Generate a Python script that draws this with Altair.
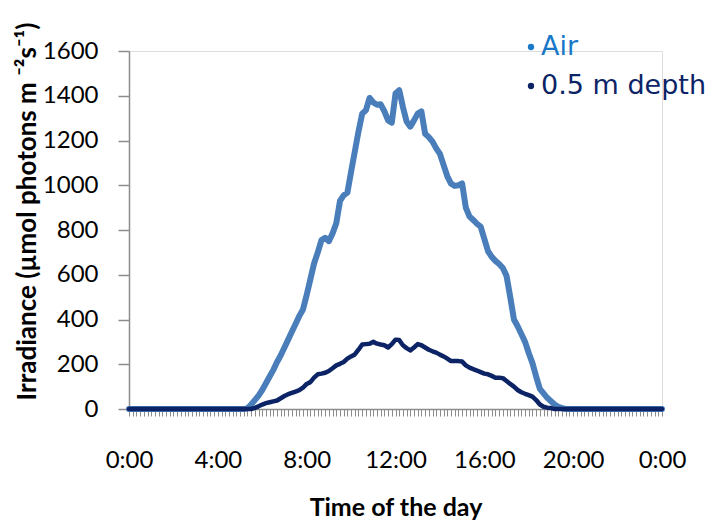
import altair as alt
import pandas as pd

# time in minutes since midnight, one reading every 10 minutes (0:00 .. 24:00)
minutes = [10 * i for i in range(145)]

air = ([0] * 32 +
       [3, 20, 40, 60, 85, 115, 145, 175, 210, 240, 275, 310, 345, 380, 415, 445,
        510, 580, 650, 700, 755, 765, 750, 785, 830, 930, 955, 967, 1060, 1150,
        1240, 1320, 1335, 1390, 1370, 1360, 1362, 1330, 1290, 1280, 1410, 1425,
        1350, 1285, 1262, 1290, 1320, 1330, 1230, 1215, 1195, 1165, 1140, 1090,
        1040, 1007, 997, 1000, 1008, 900, 860, 845, 828, 815, 760, 705, 680, 662,
        648, 630, 595, 500, 400, 370, 335, 300, 250, 205, 145, 90, 70, 50, 35,
        20, 10, 4] +
       [0] * 27)

depth = ([0] * 34 +
         [5, 12, 20, 26, 30, 34, 38, 48, 58, 66, 72, 78, 84, 95, 112, 120, 140,
          155, 158, 162, 170, 182, 195, 202, 210, 225, 235, 244, 265, 288, 290,
          292, 300, 292, 288, 285, 275, 290, 310, 308, 285, 272, 262, 275, 290,
          285, 275, 265, 258, 252, 243, 235, 225, 214, 214, 214, 212, 195, 185,
          178, 172, 165, 158, 155, 148, 140, 140, 138, 125, 112, 100, 85, 75, 68,
          62, 55, 40, 20, 10, 6, 4] +
         [0] * 30)

series_names = ["Air", "0.5 m depth"]
line_colors = ["#4a7ebb", "#0c2466"]
legend_text_colors = ["#1a78c8", "#0c2466"]
y_ticks = [0, 200, 400, 600, 800, 1000, 1200, 1400, 1600]

df = pd.DataFrame({
    "minute": minutes * 2,
    "value": air + depth,
    "series": [series_names[0]] * len(minutes) + [series_names[1]] * len(minutes),
})

W, H = 533, 358

x_axis = alt.Axis(
    values=minutes, ticks=True,
    labelExpr="datum.value % 240 == 0 ? (floor(datum.value / 60) % 24) + ':00' : ''",
    labelFont="Lato", labelFontSize=24, labelColor="#000000", labelPadding=32,
    labelAngle=0, labelOverlap=False, labelFlush=False,
    tickColor="#8c8c8c", tickSize=7, tickWidth=1, tickOpacity=1,
    domainColor="#8c8c8c", domainWidth=1.5, grid=False,
    title="Time of the day", titleFont="Lato", titleFontSize=25, titleFontWeight="bold",
    titleColor="#000000", titlePadding=23,
)

y_axis = alt.Axis(
    values=y_ticks, format="d",
    labelFont="Lato", labelFontSize=24, labelColor="#000000", labelPadding=20,
    tickColor="#8c8c8c", tickSize=11, tickWidth=1.5,
    domainColor="#8c8c8c", domainWidth=1.5, grid=False,
    title="Irradiance (µmol photons m ⁻²s⁻¹)", titleFont="Lato", titleFontSize=26,
    titleFontWeight="bold", titleColor="#000000",
    titleX=-89, titleY=160, titleAngle=270, titleAlign="center", titleBaseline="bottom",
)

base = alt.Chart(df)

lines = base.mark_line(strokeJoin="round", strokeCap="round", clip=False).encode(
    x=alt.X("minute:Q", scale=alt.Scale(domain=[0, 1440], nice=False, zero=False), axis=x_axis),
    y=alt.Y("value:Q", scale=alt.Scale(domain=[0, 1600], nice=False), axis=y_axis),
    color=alt.Color("series:N", scale=alt.Scale(domain=series_names, range=line_colors), legend=None),
    strokeWidth=alt.StrokeWidth("series:N", scale=alt.Scale(domain=series_names, range=[6, 4.5]), legend=None),
    order=alt.Order("minute:Q"),
)

leg_df = pd.DataFrame({"label": series_names, "tcolor": legend_text_colors, "row": [0, 1]})
leg_base = alt.Chart(leg_df)
leg_dots = leg_base.mark_circle(size=40, opacity=1).encode(
    x=alt.value(402),
    y=alt.Y("row:Q", scale=alt.Scale(domain=[0, 1], range=[-4, 35]), axis=None),
    color=alt.Color("tcolor:N", scale=None),
)
leg_text = leg_base.mark_text(align="left", baseline="middle", font="DejaVu Sans", fontSize=27).encode(
    x=alt.value(412),
    y=alt.Y("row:Q", scale=alt.Scale(domain=[0, 1], range=[-4, 35]), axis=None),
    text="label:N",
    color=alt.Color("tcolor:N", scale=None),
)

chart = alt.layer(lines, leg_dots, leg_text).resolve_scale(y="independent").properties(
    width=W, height=H,
    autosize=alt.AutoSizeParams(type="none"),
    padding={"left": 129, "top": 51, "right": 48, "bottom": 115},
).configure_view(stroke=None).configure(background="white")

chart.save("out.html", embed_options={"renderer": "svg", "actions": False})
